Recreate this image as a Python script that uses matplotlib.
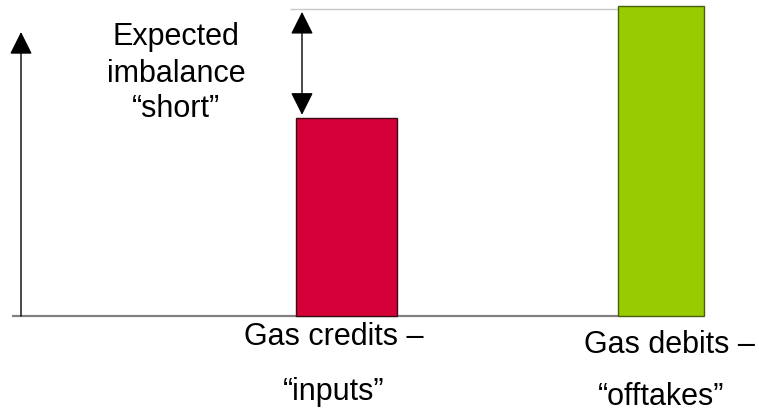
import matplotlib
matplotlib.use('Agg')
import matplotlib.pyplot as plt

# values (debits = 100)
categories = ['Gas credits', 'Gas debits']
values = [64, 100]
bar_colors = ['#D50037', '#99CC00']
edge_colors = ['#3a0a14', '#4a6010']
label_line1 = ['Gas credits \u2013', 'Gas debits \u2013']
label_line2 = ['\u201cinputs\u201d', '\u201cofftakes\u201d']
note_lines = ['Expected', 'imbalance', '\u201cshort\u201d']

plt.rcParams['font.family'] = ['Liberation Sans', 'DejaVu Sans']

W, H = 759, 414
BASE = 317      # baseline, px from top
SCALE = 3.1     # px per unit


def py2v(py):
    # pixel row -> data value
    return (BASE - py) / SCALE


fig = plt.figure(figsize=(W / 100, H / 100), dpi=100)
ax = fig.add_axes([0, 0, 1, 1])
ax.set_xlim(0, W)
ax.set_ylim(py2v(H), py2v(0))
ax.axis('off')

# bars
xpos = [346.5, 661]
widths = [101, 86]
ax.bar(xpos, values, width=widths, color=bar_colors, edgecolor=edge_colors,
       linewidth=1, zorder=3)

# baseline and top reference line
ax.hlines(0, 12, xpos[1] - widths[1] / 2, color='#808080', lw=1.6, zorder=2)
ax.hlines(values[1] - 1, 290, xpos[1] - widths[1] / 2, color='#c8c8c8', lw=1, zorder=2)

# y axis arrow
ax.annotate('', xy=(21, py2v(33)), xytext=(21, 0),
            arrowprops=dict(arrowstyle='-|>,head_length=1.0,head_width=0.5',
                            mutation_scale=14, color='black', lw=1,
                            shrinkA=0, shrinkB=0))

# imbalance double arrow
ax.annotate('', xy=(302, values[0]), xytext=(302, values[1] - 1),
            arrowprops=dict(arrowstyle='<|-|>,head_length=1.0,head_width=0.5',
                            mutation_scale=14, color='black', lw=1,
                            shrinkA=2, shrinkB=2))

fs = 22
for txt, py in zip(note_lines, [45, 82, 117]):
    ax.text(176, py2v(py), txt, ha='center', va='baseline', fontsize=fs)

# category labels
ax.text(334, py2v(345), label_line1[0], ha='center', va='baseline', fontsize=fs)
ax.text(334, py2v(400), label_line2[0], ha='center', va='baseline', fontsize=fs)
ax.text(670, py2v(353), label_line1[1], ha='center', va='baseline', fontsize=fs)
ax.text(661, py2v(405), label_line2[1], ha='center', va='baseline', fontsize=fs)

fig.savefig('out.png', dpi=100)
